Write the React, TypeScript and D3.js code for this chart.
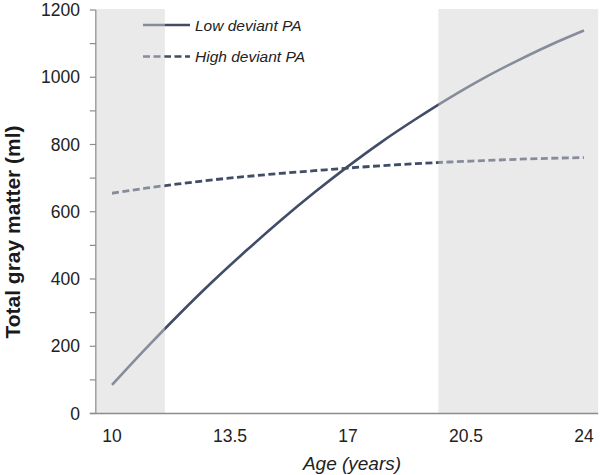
import { useEffect, useRef } from 'react'
import * as d3 from 'd3'

const ages = [10, 11, 12, 13, 14, 15, 16, 17, 18, 19, 20, 21, 22, 23, 24]
const lowDeviant = [85, 193, 296, 394, 486, 574, 657, 735, 808, 875, 938, 996, 1048, 1096, 1139]
const highDeviant = [655, 670, 683, 695, 705, 714, 722, 730, 737, 743, 748, 752, 756, 759, 761]
const xTicks = [10, 13.5, 17, 20.5, 24]
const yTicks = [0, 200, 400, 600, 800, 1000, 1200]
// age ranges shaded in grey
const shadedRanges: [number, number][] = [[9.52, 11.57], [19.68, 24.42]]

export default function App() {
  const svgRef = useRef<SVGSVGElement>(null)

  useEffect(() => {
    if (!svgRef.current) return
    const svg = d3.select(svgRef.current)
    svg.selectAll('*').remove()

    const width = 600
    const height = 475
    svg.attr('width', width).attr('height', height)

    const x = d3.scaleLinear().domain([10, 24]).range([112, 584])
    const y = d3.scaleLinear().domain([0, 1200]).range([413.5, 10])
    const x0 = x(9.52)
    const x1 = x(24.42)

    const font = "'Liberation Sans', Arial, sans-serif"

    const line = d3.line<number>()
      .x((_, i) => x(ages[i]))
      .curve(d3.curveMonotoneX)

    // low deviant
    svg.append('path')
      .attr('d', line.y(d => y(d))(lowDeviant))
      .attr('fill', 'none')
      .attr('stroke', '#414c67')
      .attr('stroke-width', 2.6)

    // high deviant
    svg.append('path')
      .attr('d', line.y(d => y(d))(highDeviant))
      .attr('fill', 'none')
      .attr('stroke', '#414c67')
      .attr('stroke-width', 2.8)
      .attr('stroke-dasharray', '7,3.5')

    // Legend
    const legend = [
      { label: 'Low deviant PA', dash: null, yPos: 25 },
      { label: 'High deviant PA', dash: '7,3.5', yPos: 56.5 },
    ]
    legend.forEach(l => {
      svg.append('line')
        .attr('x1', 143).attr('x2', 190)
        .attr('y1', l.yPos).attr('y2', l.yPos)
        .attr('stroke', '#414c67')
        .attr('stroke-width', 2.6)
        .attr('stroke-dasharray', l.dash)
      svg.append('text')
        .attr('x', 195).attr('y', l.yPos + 5.5)
        .text(l.label)
        .attr('font-family', font)
        .attr('font-size', '15.5px')
        .attr('font-style', 'italic')
        .attr('fill', '#222')
    })

    // grey shading laid over the lines (lines look lighter there)
    shadedRanges.forEach(([a, b]) => {
      svg.append('rect')
        .attr('x', x(a)).attr('y', y(1200) - 1)
        .attr('width', x(b) - x(a))
        .attr('height', y(0) - y(1200) + 1)
        .attr('fill', '#d4d4d4')
        .attr('fill-opacity', 0.48)
    })

    // Axes
    svg.append('line')
      .attr('x1', x0).attr('x2', x0)
      .attr('y1', y(1200)).attr('y2', y(0))
      .attr('stroke', '#8c8c8c').attr('stroke-width', 1.2)
    svg.append('line')
      .attr('x1', x0 - 6).attr('x2', x1)
      .attr('y1', y(0)).attr('y2', y(0))
      .attr('stroke', '#8c8c8c').attr('stroke-width', 1.5)

    const minor = d3.range(0, 1201, 100)
    svg.selectAll('.ytick')
      .data(minor)
      .enter()
      .append('line')
      .attr('x1', x0 - 6).attr('x2', x0)
      .attr('y1', d => y(d)).attr('y2', d => y(d))
      .attr('stroke', '#8c8c8c').attr('stroke-width', 1.2)

    svg.selectAll('.ylab')
      .data(yTicks)
      .enter()
      .append('text')
      .attr('x', 80)
      .attr('y', d => y(d) + 6)
      .attr('text-anchor', 'end')
      .text(d => String(d))
      .attr('font-family', font)
      .attr('font-size', '17.5px')
      .attr('fill', '#222')

    svg.selectAll('.xlab')
      .data(xTicks)
      .enter()
      .append('text')
      .attr('x', d => x(d))
      .attr('y', 442)
      .attr('text-anchor', 'middle')
      .text(d => String(d))
      .attr('font-family', font)
      .attr('font-size', '17.5px')
      .attr('fill', '#222')

    svg.append('text')
      .attr('x', 352).attr('y', 470)
      .attr('text-anchor', 'middle')
      .text('Age (years)')
      .attr('font-family', font)
      .attr('font-size', '19px')
      .attr('font-style', 'italic')
      .attr('fill', '#222')

    svg.append('text')
      .attr('transform', 'translate(20,232) rotate(-90)')
      .attr('text-anchor', 'middle')
      .text('Total gray matter (ml)')
      .attr('font-family', font)
      .attr('font-size', '21px')
      .attr('font-weight', 'bold')
      .attr('fill', '#1a1a1a')
  }, [])

  return (
    <svg ref={svgRef} style={{ position: 'absolute', left: 0, top: 0, display: 'block', background: '#fff' }} />
  )
}
